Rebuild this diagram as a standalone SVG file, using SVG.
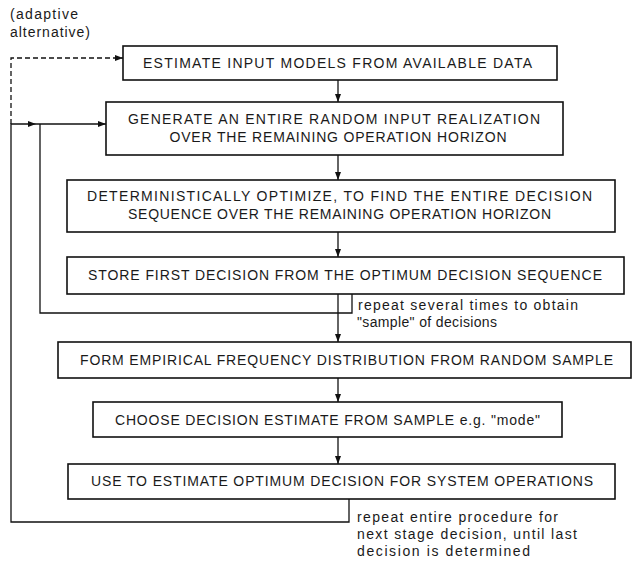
<svg xmlns="http://www.w3.org/2000/svg" width="633" height="562" viewBox="0 0 633 562">
<style>
.box{fill:#fff;stroke:#111;stroke-width:1.6}
.t{font-family:"Liberation Sans",Arial,sans-serif;font-size:14px;fill:#1a1a1a;text-anchor:middle}
.s{font-family:"Liberation Sans",Arial,sans-serif;font-size:14px;fill:#1a1a1a}
.c{fill:none;stroke:#111;stroke-width:1.3}
.d{fill:none;stroke:#111;stroke-width:1.3;stroke-dasharray:5,3}
</style>
<defs>
<marker id="ah" viewBox="0 0 8 6" refX="8" refY="3" markerWidth="8" markerHeight="6" orient="auto" markerUnits="userSpaceOnUse"><path d="M0,0 L8,3 L0,6 z" fill="#111"/></marker>
</defs>
<rect width="633" height="562" fill="#fff"/>
<g id="connectors">
<line class="c" x1="338" y1="80" x2="338" y2="102" marker-end="url(#ah)"/>
<line class="c" x1="338" y1="155" x2="338" y2="180" marker-end="url(#ah)"/>
<line class="c" x1="338" y1="232" x2="338" y2="257" marker-end="url(#ah)"/>
<line class="c" x1="338" y1="294" x2="338" y2="342" marker-end="url(#ah)"/>
<line class="c" x1="338" y1="378" x2="338" y2="402" marker-end="url(#ah)"/>
<line class="c" x1="338" y1="437" x2="338" y2="464" marker-end="url(#ah)"/>
<path class="c" d="M352,294 V313 H40 V124"/>
<path class="c" d="M349,499 V522 H11 V124 H36" marker-end="url(#ah)"/>
<line class="c" x1="36" y1="124" x2="106" y2="124" marker-end="url(#ah)"/>
<path class="d" d="M11,124 V58 H123" marker-end="url(#ah)"/>
</g>
<g id="label-adaptive">
<text class="s" x="10" y="19" textLength="68" lengthAdjust="spacing">(adaptive</text>
<text class="s" x="10" y="37" textLength="80" lengthAdjust="spacing">alternative)</text>
</g>
<g id="node1">
<rect class="box" x="123" y="46" width="434" height="34"/>
<text class="t" x="337.5" y="68" textLength="389" lengthAdjust="spacing">ESTIMATE INPUT MODELS FROM AVAILABLE DATA</text>
</g>
<g id="node2">
<rect class="box" x="106" y="102" width="457" height="53"/>
<text class="t" x="334" y="124" textLength="412" lengthAdjust="spacing">GENERATE AN ENTIRE RANDOM INPUT REALIZATION</text>
<text class="t" x="338" y="142" textLength="337" lengthAdjust="spacing">OVER THE REMAINING OPERATION HORIZON</text>
</g>
<g id="node3">
<rect class="box" x="67" y="180" width="548" height="52"/>
<text class="t" x="339.5" y="201" textLength="505" lengthAdjust="spacing">DETERMINISTICALLY OPTIMIZE, TO FIND THE ENTIRE DECISION</text>
<text class="t" x="339.5" y="219" textLength="423" lengthAdjust="spacing">SEQUENCE OVER THE REMAINING OPERATION HORIZON</text>
</g>
<g id="node4">
<rect class="box" x="67" y="257" width="557" height="37"/>
<text class="t" x="345" y="280" textLength="514" lengthAdjust="spacing">STORE FIRST DECISION FROM THE OPTIMUM DECISION SEQUENCE</text>
</g>
<g id="label-repeat1">
<text class="s" x="358" y="310" textLength="220" lengthAdjust="spacing">repeat several times to obtain</text>
<text class="s" x="357" y="327" textLength="140" lengthAdjust="spacing">"sample" of decisions</text>
</g>
<g id="node5">
<rect class="box" x="58" y="342" width="573" height="36"/>
<text class="t" x="346.5" y="365" textLength="533" lengthAdjust="spacing">FORM EMPIRICAL FREQUENCY DISTRIBUTION FROM RANDOM SAMPLE</text>
</g>
<g id="node6">
<rect class="box" x="93" y="402" width="469" height="35"/>
<text class="t" x="327.5" y="425" textLength="425" lengthAdjust="spacing">CHOOSE DECISION ESTIMATE FROM SAMPLE e.g. "mode"</text>
</g>
<g id="node7">
<rect class="box" x="68" y="464" width="547" height="35"/>
<text class="t" x="342" y="486" textLength="502" lengthAdjust="spacing">USE TO ESTIMATE OPTIMUM DECISION FOR SYSTEM OPERATIONS</text>
</g>
<g id="label-repeat2">
<text class="s" x="357" y="522" textLength="201" lengthAdjust="spacing">repeat entire procedure for</text>
<text class="s" x="357" y="539" textLength="220" lengthAdjust="spacing">next stage decision, until last</text>
<text class="s" x="357" y="556" textLength="173" lengthAdjust="spacing">decision is determined</text>
</g>
</svg>
